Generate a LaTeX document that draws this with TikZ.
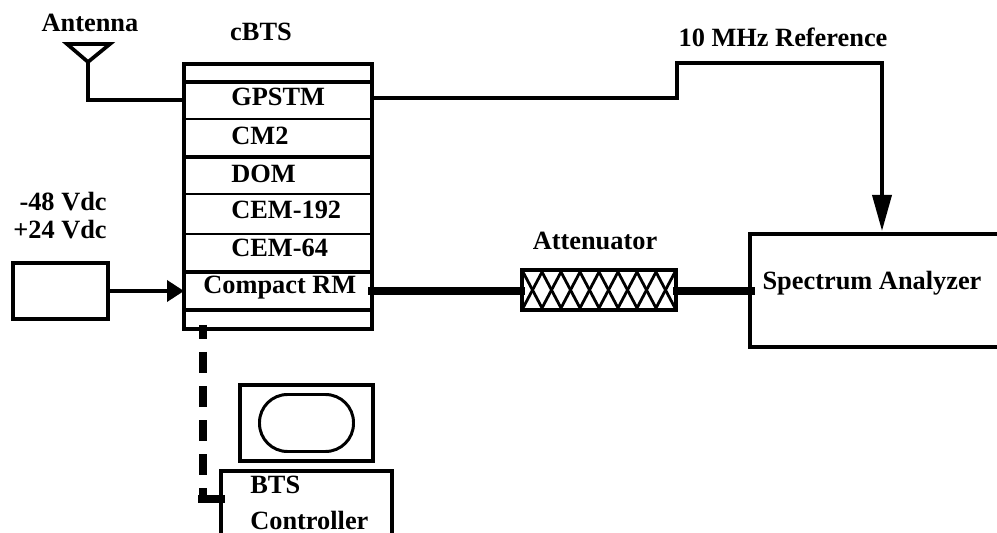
\documentclass[tikz,border=0pt]{standalone}
\usepackage{fontspec}
\setmainfont{Liberation Serif}
\usetikzlibrary{arrows.meta,positioning,calc}
\begin{document}
\begin{tikzpicture}[
  x=0.02cm,y=-0.02cm,
  font=\fontsize{15pt}{17pt}\selectfont\bfseries,
  lbl/.style={inner sep=0pt},
  wire/.style={line width=2.1pt},
  rfwire/.style={line width=4.2pt},
  box/.style={draw,line width=2.4pt,inner sep=0pt},
]
  \useasboundingbox (0,0) rectangle (997,533);
  % ---- rack cBTS ----
  \node[box,minimum width=188*0.02cm,minimum height=265*0.02cm] (rack) at (278,196.5) {};
  \foreach \ypos/\lw in {82/2.1,119/1.3,157/2.1,194/1.3,234/1.3,272/2.1,310/2.1}
    \draw[line width=\lw pt] (184,\ypos) -- (372,\ypos);
  \node[lbl] (cbts) at (261,32) {cBTS};
  \node[lbl,anchor=west] (gpstm) at (231,97) {GPSTM};
  \node[lbl,anchor=west] (cmdos) at (231,136) {CM2};
  \node[lbl,anchor=west] (dom) at (231,174) {DOM};
  \node[lbl,anchor=west] (cemA) at (231,210) {CEM-192};
  \node[lbl,anchor=west] (cemB) at (231,248) {CEM-64};
  \node[lbl,anchor=west] (crm) at (203,288) {Compact RM};
  \coordinate (rackgps) at (184,100);
  \coordinate (rackgpsout) at (374,98);
  \coordinate (rackpwr) at (184,291);
  \coordinate (rackrf) at (368,291);
  \coordinate (rackctl) at (203,325);
  % ---- antena ----
  \node[lbl] (antlabel) at (90,23) {Antenna};
  \draw[wire] (67,44) -- (110,44) -- (88,62) -- cycle;
  \coordinate (ant) at (88,62);
  \draw[wire] (ant) -- (88,100) -- (rackgps);
  % ---- alimentacion ----
  \node[lbl,anchor=east] (vneg) at (107,202) {-48 Vdc};
  \node[lbl,anchor=east] (vpos) at (107,230) {+24 Vdc};
  \node[box,minimum width=95*0.02cm,minimum height=56*0.02cm] (pwr) at (60.5,291) {};
  \draw[wire,-{Triangle[length=17*0.02cm,width=21*0.02cm]}] (pwr.east |- rackpwr) -- (rackpwr);
  % ---- atenuador ----
  \node[lbl] (attlabel) at (595,241) {Attenuator};
  \foreach \k in {0,...,7} {
    \draw[line width=1.6pt] ({523+\k*19},272) -- ({523+(\k+1)*19},308);
    \draw[line width=1.6pt] ({523+\k*19},308) -- ({523+(\k+1)*19},272);
  }
  \node[box,minimum width=154*0.02cm,minimum height=40*0.02cm] (att) at (599,290) {};
  % ---- analizador ----
  \node[lbl] (salabel) at (872,283) {Spectrum Analyzer};
  \coordinate (satl) at (997,234);
  \coordinate (sabl) at (997,347);
  \draw[box] (satl) -- (750,234) -- (750,347) -- (sabl);
  \coordinate (sarf) at (755,291);
  \coordinate (satop) at (882,231);
  \draw[rfwire] (rackrf) -- ($(att.west |- rackrf)+(5,0)$);
  \draw[rfwire] ($(att.east |- sarf)+(-5,0)$) -- (sarf);
  % ---- referencia ----
  \node[lbl] (reflabel) at (783,37) {10 MHz Reference};
  \draw[wire,-{Triangle[length=36*0.02cm,width=19*0.02cm]}] (rackgpsout) -- (677,98) -- (677,63) -- (882,63) -- (satop);
  % ---- monitor y controlador ----
  \node[box,minimum width=133*0.02cm,minimum height=76*0.02cm] (mon) at (306.5,423) {};
  \node[draw,line width=1.7pt,rounded corners=28*0.02cm,minimum width=94*0.02cm,minimum height=57*0.02cm] (screen) at (mon.center) {};
  \coordinate (ctltl) at (221,471);
  \coordinate (ctlbl) at (221,533);
  \coordinate (ctltr) at (392,471);
  \coordinate (ctlbr) at (392,533);
  \draw[box] (ctlbl) -- (ctltl) -- (ctltr) -- (ctlbr);
  \node[lbl,anchor=west] (ctlA) at (250,485) {BTS};
  \node[lbl,anchor=west] (ctlB) at (250,520) {Controller};
  \coordinate (ctlin) at (225,499);
  \draw[line width=5pt,dash pattern=on 21*0.02cm off 13*0.02cm,dash phase=7*0.02cm] (rackctl) -- (203,503);
  \draw[line width=4.5pt] (198,499) -- (ctlin);
\end{tikzpicture}
\end{document}
